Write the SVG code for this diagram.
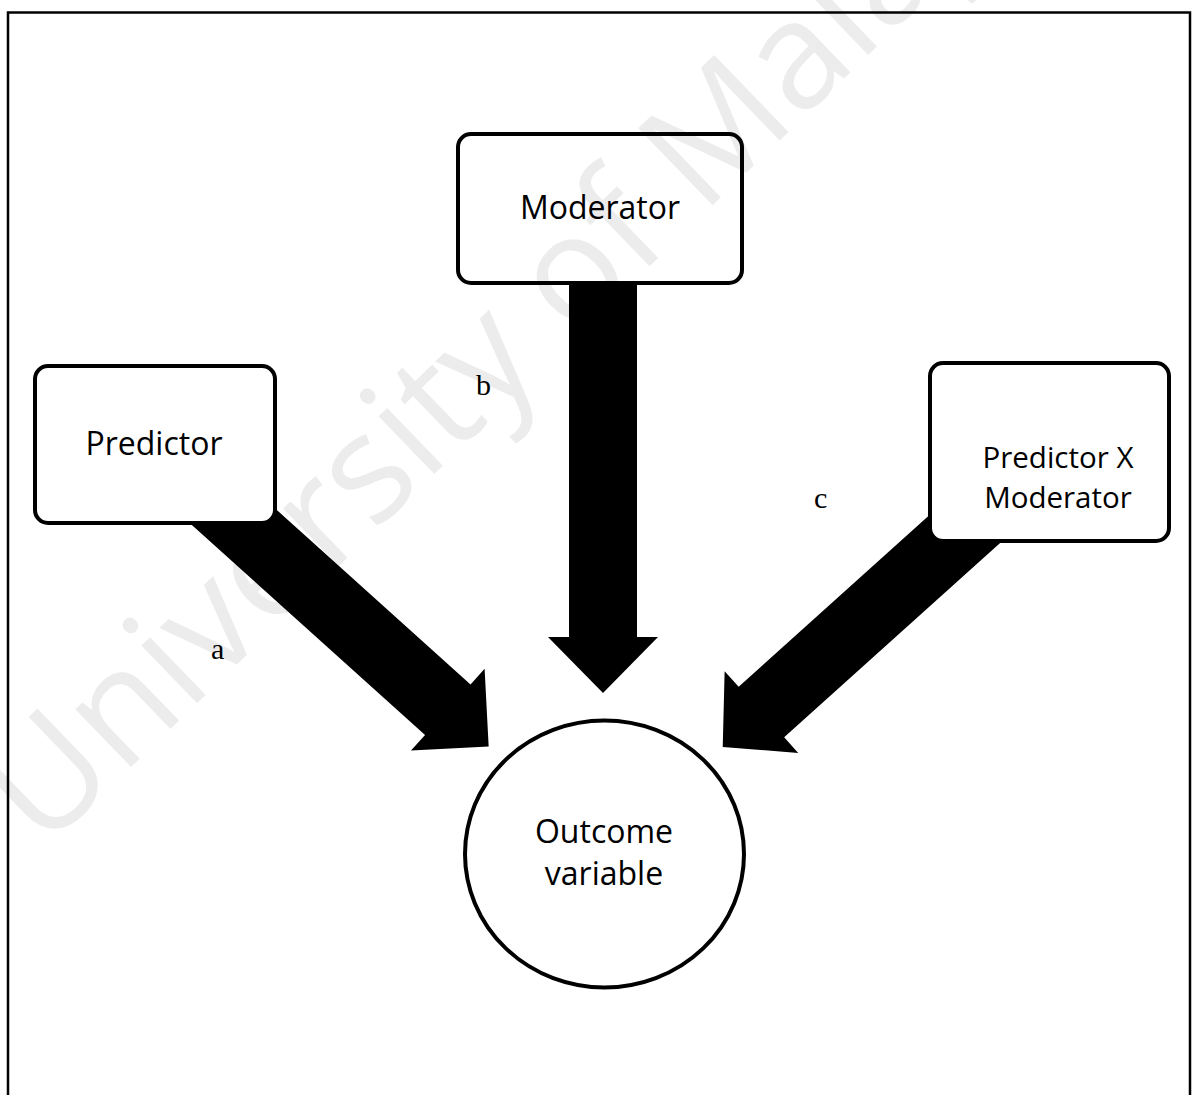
<svg xmlns="http://www.w3.org/2000/svg" width="1195" height="1095" viewBox="0 0 1195 1095">
  <style>
    .box { fill: #ffffff; stroke: #000000; stroke-width: 4; }
    .lbl { font-family: "Open Sans", "Liberation Sans", sans-serif; font-size: 32px; fill: #000000; text-anchor: middle; }
    .lbl-sm { font-size: 29.5px; }
    .path-id { font-family: "Liberation Serif", "Times New Roman", serif; font-size: 30px; fill: #000000; }
    .arrow { fill: #000000; }
    .mark { font-family: "Open Sans", "Liberation Sans", sans-serif; font-size: 150px; fill: #000000; fill-opacity: 0.075; }
  </style>
  <defs>
    <!-- block arrow along +x: shaft 68 wide, head 110 wide and 55 long -->
    <polygon id="block-arrow" points="-40,-34 285,-34 285,-55 340,0 285,55 285,34 -40,34"/>
  </defs>

  <rect x="0" y="0" width="1195" height="1095" fill="#ffffff"/>

  <!-- page frame, open at the bottom -->
  <path d="M8,1095 V12.5 H1190 V1095" fill="none" stroke="#000000" stroke-width="2.5"/>

  <g id="connectors">
    <g id="arrow-a" class="arrow" transform="translate(236,519) rotate(42)">
      <use href="#block-arrow"/>
    </g>
    <g id="arrow-b" class="arrow">
      <polygon points="569,270 637,270 637,637 658,637 603,693 548,637 569,637"/>
    </g>
    <g id="arrow-c" class="arrow" transform="translate(962,531.5) rotate(138) scale(0.947,1)">
      <use href="#block-arrow"/>
    </g>
    <text class="path-id" x="211" y="659">a</text>
    <text class="path-id" x="476" y="395">b</text>
    <text class="path-id" x="814" y="508">c</text>
  </g>

  <g id="node-moderator">
    <rect class="box" x="458" y="134" width="284" height="149" rx="13"/>
    <text class="lbl" x="600" y="219">Moderator</text>
  </g>

  <g id="node-predictor">
    <rect class="box" x="35" y="366" width="240" height="157" rx="13"/>
    <text class="lbl" x="154" y="455">Predictor</text>
  </g>

  <g id="node-interaction">
    <rect class="box" x="930" y="363" width="239" height="178" rx="13"/>
    <text class="lbl lbl-sm" x="1058" y="468">Predictor X</text>
    <text class="lbl lbl-sm" x="1058" y="508">Moderator</text>
  </g>

  <g id="node-outcome">
    <ellipse class="box" cx="604.5" cy="854" rx="139.5" ry="133.5" stroke-width="3.5"/>
    <text class="lbl" x="604" y="843">Outcome</text>
    <text class="lbl" x="604" y="885">variable</text>
  </g>

  <!-- faint diagonal watermark -->
  <text class="mark" x="0" y="0" transform="translate(43,852) rotate(-44)">University of Malaya</text>
</svg>
